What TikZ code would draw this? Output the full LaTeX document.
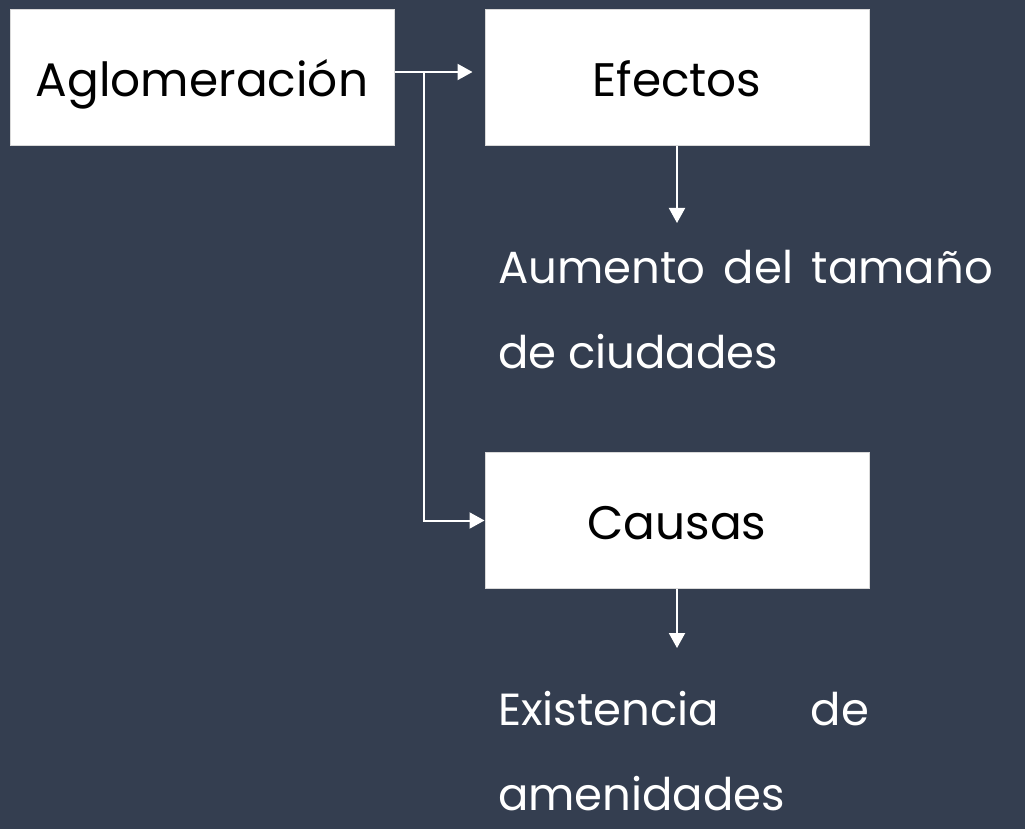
\documentclass[tikz,border=0pt]{standalone}
\usepackage{fontspec}
\setmainfont{Poppins}
\usetikzlibrary{arrows.meta,positioning}
\definecolor{fondo}{HTML}{343E50}

\begin{document}
\begin{tikzpicture}[x=1pt,y=-1pt,>={Triangle[length=15pt,width=16pt]},line width=2pt,draw=white,
  caja/.style={draw=white!85!black,line width=1pt,fill=white,text=black,inner sep=0pt,
    minimum width=384pt,minimum height=136pt,text height=38pt,text depth=0pt,
    font=\fontsize{47}{47}\selectfont},
  texto/.style={text=white,inner sep=0pt,anchor=base west,align=left,font=\fontsize{45}{85}\selectfont}]
  \fill[fondo] (0,0) rectangle (1025,829);

  \node[caja] (aglo)    at (202,78)    {Aglomeración};
  \node[caja] (efectos) at (677,78)    {Efectos};
  \node[caja] (causas)  at (677,520.5) {Causas};

  \node[texto] (aumento)    at (497,368) {\makebox[495pt][s]{Aumento del tamaño}\\de ciudades};
  \node[texto] (existencia) at (497,810) {\makebox[371pt][s]{Existencia de}\\amenidades};

  % ramas
  \coordinate (rama) at (424,72);
  \coordinate (punta1) at (677,223);
  \coordinate (punta2) at (677,648);

  \draw[->] (aglo.east |- rama) -- (efectos.west |- rama) [shorten >=12pt];
  \draw[->] (rama) |- (causas.west);
  \draw[->] (efectos.south) -- (punta1);
  \draw[->] (causas.south) -- (punta2);
\end{tikzpicture}
\end{document}
